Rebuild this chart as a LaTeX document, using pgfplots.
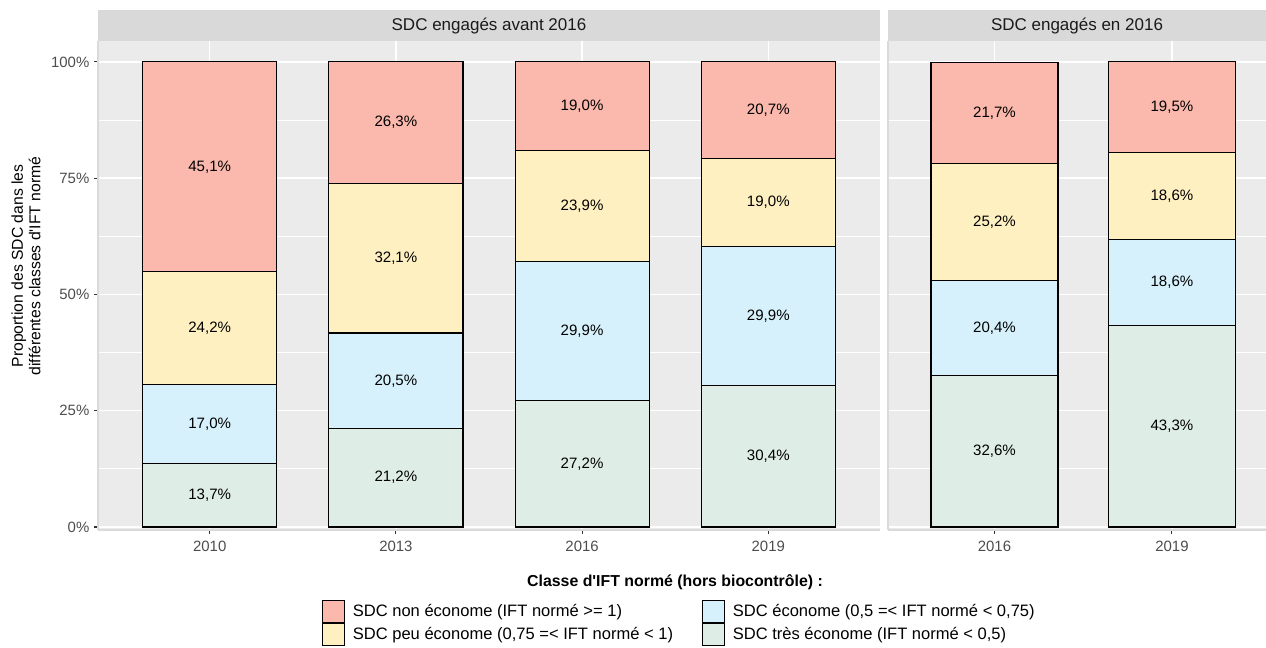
\documentclass[border=0pt]{standalone}
\usepackage{fontspec}
\setmainfont{Liberation Sans}
\usepackage{pgfplots}
\pgfplotsset{compat=1.18}
\definecolor{cnon}{HTML}{FBB8AC}
\definecolor{cpeu}{HTML}{FFF0C2}
\definecolor{ceco}{HTML}{D6F1FB}
\definecolor{ctres}{HTML}{DFEDE7}
\definecolor{cpanel}{HTML}{EBEBEB}
\definecolor{cstrip}{HTML}{D9D9D9}
\definecolor{caxis}{HTML}{DADADA}
\definecolor{ctick}{HTML}{4D4D4D}
\definecolor{cstriptxt}{HTML}{1A1A1A}
\pgfplotsset{
  /pgf/number format/assume math mode=true,
  facet/.style={
    scale only axis, height=366.75pt,
    ymin=-0.65, ymax=104.5,
    ybar stacked, bar width=0.72,
    axis background/.style={fill=cpanel},
    axis lines*=left,
    axis line style={-, draw=caxis, line width=2.2pt},
    ytick={0,25,50,75,100},
    minor ytick={12.5,37.5,62.5,87.5},
    minor tick length=0pt,
    ymajorgrids, yminorgrids, xmajorgrids,
    major grid style={draw=white, line width=1.1pt},
    minor grid style={draw=white, line width=0.55pt},
    tick align=outside, major tick length=3pt,
    tick style={draw=black!80, line width=0.8pt},
    ticklabel style={font=\fontsize{11.2}{13}\selectfont, text=ctick},
    xticklabel style={anchor=center, yshift=-9pt},
    clip=false,
    nodes near coords={\pgfmathprintnumber[fixed,fixed zerofill,precision=1,use comma]{\pgfplotspointmeta}\%},
    every node near coord/.append style={anchor=center, text=black,
      font=\fontsize{11.3}{13}\selectfont},
  },
  bars/.style={draw=black, line width=0.85pt, forget plot},
}
\begin{document}
\begin{tikzpicture}
\useasboundingbox (-73.5pt,-88.5pt) rectangle (876pt,397.5pt);
\begin{axis}[facet, name=A, at={(0pt,0pt)}, width=586.5pt,
  xmin=-0.6, xmax=3.6,
  xtick={0,1,2,3}, xticklabels={2010,2013,2016,2019},
  yticklabel={\pgfmathprintnumber{\tick}\%},
  ylabel={Proportion des SDC dans les\\différentes classes d\textquotesingle IFT normé},
  ylabel style={at={(axis description cs:-0.092,0.54)}, anchor=center, align=center,
    font=\fontsize{11.8}{13.2}\selectfont},
  legend image code/.code={\draw[#1, line width=0.8pt] (0pt,-8.2pt) rectangle (16.5pt,8.2pt);},
  legend style={at={(axis description cs:0.742,-0.144)}, anchor=north,
    draw=none, fill=none, inner sep=0pt, outer sep=0pt,
    legend columns=2, row sep=0pt,
    font=\fontsize{12.4}{14}\selectfont,
    nodes={inner sep=0pt},
    /tikz/every odd column/.append style={column sep=6pt},
    /tikz/every even column/.append style={column sep=21.5pt}},
  legend cell align=left,
]
\addplot[bars, fill=ctres] coordinates {(0,13.7) (1,21.2) (2,27.2) (3,30.4)};
\addplot[bars, fill=ceco]  coordinates {(0,17.0) (1,20.5) (2,29.9) (3,29.9)};
\addplot[bars, fill=cpeu]  coordinates {(0,24.2) (1,32.1) (2,23.9) (3,19.0)};
\addplot[bars, fill=cnon]  coordinates {(0,45.1) (1,26.3) (2,19.0) (3,20.7)};
\addlegendimage{fill=cnon, draw=black}
\addlegendimage{fill=ceco, draw=black}
\addlegendimage{fill=cpeu, draw=black}
\addlegendimage{fill=ctres, draw=black}
\legend{{SDC non économe (IFT normé >= 1)},{SDC économe (0,5 =< IFT normé < 0,75)},
  {SDC peu économe (0,75 =< IFT normé < 1)},{SDC très économe (IFT normé < 0,5)}}
\end{axis}
\begin{axis}[facet, name=B, at={(592.5pt,0pt)}, width=283.5pt,
  xmin=-0.6, xmax=1.53, bar width=0.715,
  xtick={0,1}, xticklabels={2016,2019},
  yticklabels={}, ytick style={draw=none},
]
\addplot[bars, fill=ctres] coordinates {(0,32.6) (1,43.3)};
\addplot[bars, fill=ceco]  coordinates {(0,20.4) (1,18.6)};
\addplot[bars, fill=cpeu]  coordinates {(0,25.2) (1,18.6)};
\addplot[bars, fill=cnon]  coordinates {(0,21.7) (1,19.5)};
\end{axis}
\fill[cstrip] (A.north west) rectangle ([yshift=23.25pt]A.north east);
\node[font=\fontsize{12.75}{14}\selectfont, text=cstriptxt] at ([yshift=11.6pt]A.north) {SDC engagés avant 2016};
\fill[cstrip] (B.north west) rectangle ([yshift=23.25pt]B.north east);
\node[font=\fontsize{12.75}{14}\selectfont, text=cstriptxt] at ([yshift=11.6pt]B.north) {SDC engagés en 2016};
\node[font=\bfseries\fontsize{11.9}{14}\selectfont] at (432.75pt,-39pt) {Classe d\textquotesingle IFT normé (hors biocontrôle) :};
\end{tikzpicture}
\end{document}
